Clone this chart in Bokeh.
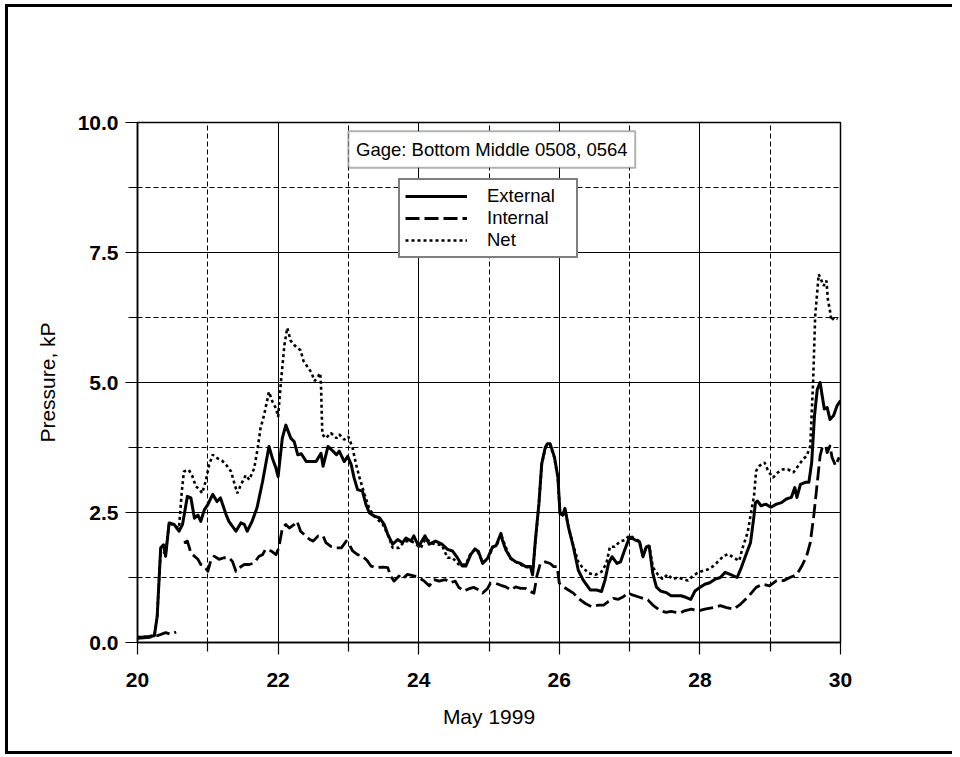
from bokeh.plotting import figure
from bokeh.layouts import column
from bokeh.models import (Range1d, FixedTicker, PrintfTickFormatter, Legend, LegendItem,
                          BoxAnnotation, Label)
from bokeh.embed import file_html
from bokeh.resources import INLINE

NaN = float("nan")

gage_title = "Gage: Bottom Middle 0508, 0564"
series_names = ["External", "Internal", "Net"]
x_axis_title = "May 1999"
y_axis_title = "Pressure, kP"
x_major_ticks = [20, 22, 24, 26, 28, 30]
x_minor_ticks = [21, 23, 25, 27, 29]
y_major_ticks = [0.0, 2.5, 5.0, 7.5, 10.0]
y_minor_ticks = [1.25, 3.75, 6.25, 8.75]

external_day = [20.0, 20.1, 20.24, 20.28, 20.33, 20.37, 20.4, 20.45, 20.52, 20.59, 20.64, 20.71, 20.76,
                20.81, 20.86, 20.9, 20.95, 21.0, 21.07, 21.13, 21.18, 21.26, 21.3, 21.4, 21.47, 21.52,
                21.56, 21.63, 21.7, 21.78, 21.87, 21.92, 21.97, 22.0, 22.06, 22.11, 22.18, 22.23, 22.28,
                22.33, 22.4, 22.54, 22.61, 22.64, 22.71, 22.78, 22.83, 22.87, 22.94, 22.99, 23.04, 23.08,
                23.13, 23.2, 23.25, 23.3, 23.37, 23.44, 23.51, 23.56, 23.63, 23.7, 23.77, 23.82, 23.89,
                23.93, 24.0, 24.09, 24.15, 24.24, 24.33, 24.41, 24.48, 24.55, 24.62, 24.67, 24.74, 24.8,
                24.85, 24.91, 24.98, 25.05, 25.1, 25.17, 25.19, 25.24, 25.31, 25.38, 25.45, 25.52, 25.59,
                25.62, 25.66, 25.71, 25.75, 25.8, 25.83, 25.87, 25.93, 25.98, 26.01, 26.05, 26.08, 26.13,
                26.2, 26.27, 26.34, 26.44, 26.53, 26.6, 26.65, 26.7, 26.75, 26.82, 26.87, 26.93, 27.0,
                27.08, 27.14, 27.19, 27.24, 27.28, 27.33, 27.38, 27.44, 27.52, 27.59, 27.66, 27.73, 27.8,
                27.87, 27.93, 28.0, 28.07, 28.14, 28.22, 28.29, 28.36, 28.43, 28.53, 28.58, 28.65, 28.72,
                28.77, 28.79, 28.82, 28.87, 28.94, 29.01, 29.09, 29.16, 29.23, 29.3, 29.35, 29.38, 29.43,
                29.5, 29.55, 29.59, 29.63, 29.67, 29.71, 29.74, 29.77, 29.81, 29.85, 29.9, 29.95, 30.0]
external_kp = [0.1, 0.1, 0.13, 0.5, 1.82, 1.88, 1.66, 2.3, 2.27, 2.14, 2.27, 2.81, 2.78,
               2.39, 2.45, 2.33, 2.55, 2.65, 2.85, 2.71, 2.78, 2.46, 2.33, 2.14, 2.3, 2.27,
               2.14, 2.33, 2.59, 3.1, 3.77, 3.54, 3.35, 3.19, 3.93, 4.18, 3.93, 3.86, 3.61,
               3.63, 3.48, 3.48, 3.64, 3.39, 3.77, 3.68, 3.61, 3.68, 3.48, 3.58, 3.42, 3.17,
               2.94, 2.91, 2.65, 2.49, 2.43, 2.4, 2.27, 2.08, 1.89, 1.98, 1.92, 2.01, 1.95,
               2.05, 1.85, 2.05, 1.89, 1.95, 1.89, 1.79, 1.76, 1.63, 1.47, 1.47, 1.69, 1.8,
               1.75, 1.52, 1.62, 1.84, 1.86, 2.1, 1.97, 1.78, 1.62, 1.55, 1.52, 1.46, 1.46,
               1.3, 1.97, 2.67, 3.44, 3.75, 3.82, 3.82, 3.57, 3.18, 2.48, 2.45, 2.58, 2.22,
               1.84, 1.39, 1.2, 1.01, 1.01, 0.98, 1.2, 1.52, 1.65, 1.52, 1.55, 1.78, 2.03,
               1.97, 1.94, 1.65, 1.84, 1.84, 1.33, 1.07, 0.99, 0.96, 0.9, 0.9, 0.9, 0.87,
               0.83, 0.99, 1.06, 1.12, 1.15, 1.22, 1.25, 1.35, 1.31, 1.25, 1.41, 1.67, 1.92,
               2.44, 2.69, 2.72, 2.63, 2.66, 2.6, 2.66, 2.69, 2.76, 2.79, 2.98, 2.79, 3.04,
               3.08, 3.08, 3.46, 4.36, 4.87, 5.0, 4.74, 4.49, 4.52, 4.29, 4.36, 4.55, 4.65]

internal_day = [20.0, 20.17, 20.28, 20.4, 20.47, 20.55, NaN,
                20.66, 20.71, 20.76, 20.81, 20.86, 20.9, 20.95, 21.0, 21.04, 21.09, 21.16, 21.23, 21.3,
                21.35, 21.4, 21.45, 21.52, 21.59, 21.66, 21.73, 21.78, 21.82, 21.9, 21.97, 22.01, 22.06,
                22.11, 22.16, 22.23, 22.27, 22.32, 22.39, 22.45, 22.5, 22.57, 22.64, 22.68, 22.75, 22.83,
                22.9, 22.97, 23.01, 23.06, 23.13, 23.2, 23.27, 23.32, 23.39, 23.49, 23.56, 23.6, 23.65,
                23.72, 23.77, 23.84, 23.93, 24.0, 24.08, 24.15, 24.22, 24.29, 24.38, 24.45, 24.52, 24.57,
                24.64, 24.71, 24.78, 24.86, 24.91, 24.98, 25.02, 25.09, 25.17, 25.24, 25.31, 25.38, 25.45,
                25.52, 25.59, 25.64, 25.68, 25.73, 25.8, 25.87, 25.92, 25.97, 26.0, 26.06, 26.13, 26.2,
                26.27, 26.37, 26.46, 26.56, 26.63, 26.7, 26.77, 26.84, 26.91, 26.98, 27.05, 27.12, 27.19,
                27.26, 27.33, 27.41, 27.47, 27.52, 27.59, 27.66, 27.72, 27.78, 27.88, 27.98, 28.07, 28.19,
                28.29, 28.38, 28.48, 28.58, 28.7, 28.8, 28.89, 28.99, 29.09, 29.19, 29.28, 29.38, 29.45,
                29.52, 29.57, 29.62, 29.67, 29.71, 29.74, 29.79, 29.81, 29.85, 29.88, 29.93, 29.98]
internal_kp = [0.08, 0.1, 0.13, 0.19, 0.16, 0.2, NaN,
               1.92, 1.95, 1.72, 1.66, 1.6, 1.5, 1.47, 1.37, 1.56, 1.66, 1.6, 1.63, 1.63,
               1.56, 1.37, 1.44, 1.5, 1.5, 1.53, 1.66, 1.69, 1.79, 1.76, 1.69, 1.82, 2.2,
               2.27, 2.2, 2.27, 2.33, 2.14, 2.05, 1.98, 1.95, 2.05, 2.05, 1.92, 1.85, 1.82,
               1.82, 1.95, 1.89, 1.76, 1.69, 1.66, 1.57, 1.47, 1.44, 1.45, 1.44, 1.28, 1.18,
               1.28, 1.22, 1.31, 1.28, 1.25, 1.18, 1.09, 1.21, 1.18, 1.21, 1.15, 1.18, 1.06,
               0.99, 1.03, 1.06, 1.01, 0.95, 1.04, 1.14, 1.14, 1.1, 1.07, 1.01, 1.07, 1.04,
               1.04, 0.98, 0.95, 1.27, 1.52, 1.55, 1.52, 1.46, 1.46, 1.14, 1.07, 1.01, 0.95,
               0.85, 0.75, 0.69, 0.72, 0.72, 0.79, 0.85, 0.83, 0.88, 0.95, 0.91, 0.88, 0.85,
               0.82, 0.72, 0.64, 0.6, 0.58, 0.6, 0.58, 0.57, 0.61, 0.64, 0.61, 0.64, 0.67,
               0.71, 0.67, 0.64, 0.74, 0.9, 1.06, 1.12, 1.09, 1.19, 1.19, 1.25, 1.31, 1.47,
               1.67, 1.92, 2.44, 3.08, 3.59, 3.75, 3.78, 3.65, 3.78, 3.56, 3.4, 3.56]

net_day = [20.0, 20.24, 20.28, 20.33, 20.4, 20.45, 20.52, 20.59, 20.63, 20.66, 20.73, 20.78, 20.83,
           20.88, 20.92, 20.97, 21.02, 21.07, 21.14, 21.2, 21.26, 21.33, 21.37, 21.42, 21.47, 21.54,
           21.59, 21.66, 21.71, 21.75, 21.8, 21.87, 21.92, 21.97, 22.0, 22.04, 22.09, 22.13, 22.18,
           22.23, 22.27, 22.32, 22.36, 22.42, 22.47, 22.52, 22.57, 22.6, 22.61, 22.62, 22.63, 22.68,
           22.75, 22.83, 22.87, 22.94, 23.0, 23.06, 23.11, 23.16, 23.23, 23.3, 23.39, 23.49, 23.56,
           23.63, 23.72, 23.8, 23.9, 24.03, 24.1, 24.2, 24.33, 24.41, 24.48, 24.57, 24.67, 24.74,
           24.8, 24.85, 24.91, 24.98, 25.05, 25.12, 25.17, 25.22, 25.3, 25.38, 25.45, 25.52, 25.59,
           25.62, 25.66, 25.71, 25.75, 25.8, 25.83, 25.87, 25.93, 25.98, 26.01, 26.05, 26.08, 26.13,
           26.2, 26.27, 26.32, 26.42, 26.51, 26.6, 26.67, 26.72, 26.79, 26.86, 26.93, 27.0, 27.08,
           27.14, 27.19, 27.24, 27.28, 27.33, 27.4, 27.47, 27.54, 27.61, 27.69, 27.76, 27.83, 27.9,
           27.98, 28.05, 28.12, 28.19, 28.27, 28.34, 28.41, 28.48, 28.56, 28.6, 28.68, 28.72, 28.77,
           28.8, 28.85, 28.92, 28.97, 29.04, 29.11, 29.18, 29.25, 29.33, 29.4, 29.47, 29.52, 29.57,
           29.61, 29.64, 29.69, 29.72, 29.76, 29.8, 29.82, 29.85, 29.87, 29.91, 29.96]
net_kp = [0.1, 0.13, 0.5, 1.8, 1.7, 2.3, 2.25, 2.2, 2.9, 3.29, 3.32, 3.2, 3.0,
          2.95, 2.87, 3.1, 3.42, 3.61, 3.54, 3.5, 3.42, 3.29, 3.1, 2.87, 3.03, 3.22,
          3.13, 3.35, 3.74, 4.12, 4.37, 4.82, 4.63, 4.5, 4.34, 5.01, 5.72, 6.05, 5.8,
          5.72, 5.67, 5.62, 5.42, 5.3, 5.2, 5.03, 5.12, 5.18, 4.96, 4.44, 4.0, 3.93,
          4.03, 3.93, 4.0, 3.9, 3.96, 3.74, 3.42, 3.16, 2.85, 2.56, 2.4, 2.27, 2.08,
          1.82, 1.82, 1.95, 1.95, 1.82, 2.0, 1.9, 1.87, 1.63, 1.63, 1.5, 1.5, 1.72,
          1.78, 1.72, 1.55, 1.58, 1.82, 1.9, 2.08, 1.9, 1.62, 1.55, 1.5, 1.45, 1.45,
          1.32, 1.95, 2.65, 3.42, 3.73, 3.8, 3.8, 3.55, 3.16, 2.48, 2.45, 2.56, 2.22,
          1.86, 1.55, 1.46, 1.33, 1.3, 1.36, 1.52, 1.84, 1.84, 1.94, 1.97, 2.06, 1.99,
          1.95, 1.67, 1.86, 1.86, 1.45, 1.31, 1.22, 1.31, 1.22, 1.25, 1.22, 1.19, 1.28,
          1.35, 1.38, 1.41, 1.47, 1.57, 1.67, 1.7, 1.63, 1.57, 1.79, 2.12, 2.44, 2.82,
          3.3, 3.4, 3.46, 3.3, 3.17, 3.27, 3.33, 3.33, 3.27, 3.4, 3.53, 3.59, 3.78,
          5.0, 6.28, 7.08, 6.99, 6.86, 6.96, 6.6, 6.38, 6.19, 6.25, 6.22]

FONT = "Liberation Sans"
OX, OY = 8, 7          # where the plot canvas starts inside the bordered page frame
W, H = 944, 744

p = figure(width=W, height=H, output_backend="svg", toolbar_location=None,
           x_range=Range1d(20, 30), y_range=Range1d(0, 10),
           min_border_left=137 - OX, min_border_right=W - (840 - OX),
           min_border_top=122 - OY, min_border_bottom=H - (642 - OY),
           background_fill_color="white", border_fill_color="white")

p.outline_line_color = "black"
p.outline_line_width = 1.5

p.xaxis.ticker = FixedTicker(ticks=x_major_ticks, minor_ticks=x_minor_ticks)
p.yaxis.ticker = FixedTicker(ticks=y_major_ticks, minor_ticks=y_minor_ticks)
p.yaxis.formatter = PrintfTickFormatter(format="%.1f")

for ax in (p.xaxis[0], p.yaxis[0]):
    ax.axis_line_color = "black"
    ax.axis_line_width = 1.5
    ax.major_tick_line_color = "black"
    ax.minor_tick_line_color = "black"
    ax.major_tick_line_width = 1.2
    ax.minor_tick_line_width = 1.2
    ax.major_tick_in = 0
    ax.minor_tick_in = 0
    ax.major_tick_out = 12
    ax.minor_tick_out = 9
    ax.major_label_text_font = FONT
    ax.major_label_text_font_size = "21px"
    ax.major_label_text_font_style = "bold"
    ax.major_label_text_color = "black"
    ax.axis_label_text_font = FONT
    ax.axis_label_text_font_size = "21px"
    ax.axis_label_text_font_style = "normal"
    ax.axis_label_text_color = "black"

p.xaxis.axis_label = x_axis_title
p.yaxis.axis_label = y_axis_title
p.xaxis.major_label_standoff = 18
p.xaxis.axis_label_standoff = 15
p.yaxis.major_label_standoff = 7
p.yaxis.axis_label_standoff = 16

p.xgrid.grid_line_color = "black"
p.ygrid.grid_line_color = "black"
p.xgrid.grid_line_width = 1
p.ygrid.grid_line_width = 1
p.xgrid.minor_grid_line_color = "black"
p.ygrid.minor_grid_line_color = "black"
p.xgrid.minor_grid_line_dash = "5 3"
p.ygrid.minor_grid_line_dash = "5 3"
p.xgrid.minor_grid_line_width = 1
p.ygrid.minor_grid_line_width = 1

r_int = p.line(internal_day, internal_kp, line_color="black", line_width=2.8,
               line_dash="14 5", line_join="round")
r_net = p.line(net_day, net_kp, line_color="black", line_width=2.6,
               line_dash="3 3")
r_ext = p.line(external_day, external_kp, line_color="black", line_width=3,
               line_join="round")

box = BoxAnnotation(left=23.0, right=27.08, bottom=9.13, top=9.83,
                    fill_color="white", fill_alpha=1.0, line_color="black", line_width=2)
p.add_layout(box)
title_label = Label(x=25.04, y=9.48, text=gage_title, text_align="center",
                    text_baseline="middle", text_font=FONT, text_font_size="18.5px",
                    text_color="black")
p.add_layout(title_label)

legend = Legend(items=[LegendItem(label=series_names[0], renderers=[r_ext]),
                       LegendItem(label=series_names[1], renderers=[r_int]),
                       LegendItem(label=series_names[2], renderers=[r_net])],
                location=(261, 384), orientation="vertical",
                padding=5, margin=0, spacing=0, glyph_width=62, glyph_height=20,
                label_height=20, label_width=84, label_standoff=20,
                label_text_font=FONT, label_text_font_size="18.5px", label_text_color="black",
                border_line_color="black", border_line_width=2,
                background_fill_color="white", background_fill_alpha=1.0)
p.add_layout(legend)

page = column(p, styles={"margin-left": "5px", "margin-top": "4px",
                         "border-left": "3px solid black",
                         "border-top": "3px solid black",
                         "border-bottom": "3px solid black",
                         "border-right": "none"})

open("out.html", "w").write(file_html(page, INLINE))
